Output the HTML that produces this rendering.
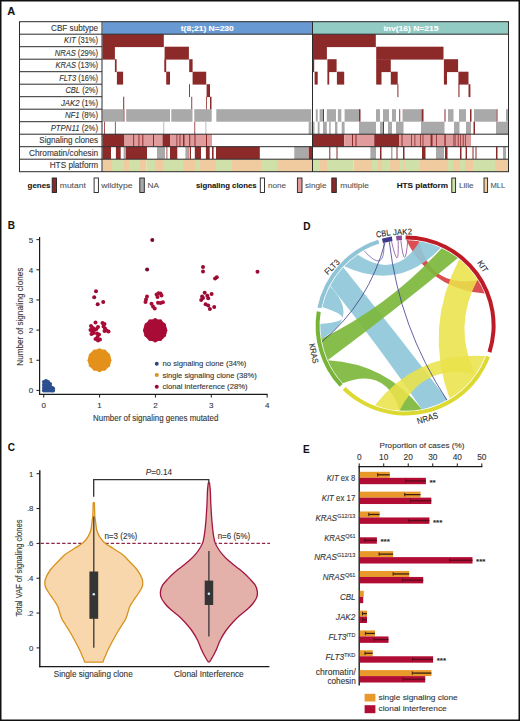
<!DOCTYPE html>
<html><head><meta charset="utf-8"><style>
html,body{margin:0;padding:0;background:#fff;overflow:hidden;}
#f{position:absolute;left:0;top:0;width:520px;height:721px;display:block;}
svg text{font-family:"Liberation Sans", sans-serif;stroke:#444;stroke-width:0.12px;}
svg text.w{stroke:#fff;}
svg text.l{stroke:#666;stroke-width:0.1px;}
</style></head><body>
<svg id="f" width="520" height="721" viewBox="0 0 520 721" font-family='"Liberation Sans", sans-serif'>
<rect x="0" y="0" width="520" height="721" fill="#fff"/>
<rect x="102.50" y="21.70" width="210.00" height="12.50" fill="#6899d2"/>
<rect x="312.50" y="21.70" width="196.00" height="12.50" fill="#92cac4"/>
<rect x="102.50" y="34.20" width="61.30" height="12.90" fill="#8c2a2a"/>
<rect x="312.50" y="34.20" width="63.30" height="12.90" fill="#8c2a2a"/>
<rect x="102.50" y="46.70" width="12.40" height="12.90" fill="#8c2a2a"/>
<rect x="164.60" y="46.70" width="24.30" height="12.90" fill="#8c2a2a"/>
<rect x="312.50" y="46.70" width="14.40" height="12.90" fill="#8c2a2a"/>
<rect x="376.20" y="46.70" width="67.30" height="12.90" fill="#8c2a2a"/>
<rect x="114.90" y="59.20" width="1.70" height="12.90" fill="#8c2a2a"/>
<rect x="164.30" y="59.20" width="1.90" height="12.90" fill="#8c2a2a"/>
<rect x="189.20" y="59.20" width="3.40" height="12.90" fill="#8c2a2a"/>
<rect x="312.50" y="59.20" width="1.70" height="12.90" fill="#8c2a2a"/>
<rect x="327.40" y="59.20" width="9.20" height="12.90" fill="#8c2a2a"/>
<rect x="376.20" y="59.20" width="14.60" height="12.90" fill="#8c2a2a"/>
<rect x="443.90" y="59.20" width="14.20" height="12.90" fill="#8c2a2a"/>
<rect x="116.90" y="71.70" width="6.20" height="12.90" fill="#8c2a2a"/>
<rect x="166.20" y="71.70" width="3.80" height="12.90" fill="#8c2a2a"/>
<rect x="192.60" y="71.70" width="13.60" height="12.90" fill="#8c2a2a"/>
<rect x="314.60" y="71.70" width="3.10" height="12.90" fill="#8c2a2a"/>
<rect x="327.40" y="71.70" width="1.80" height="12.90" fill="#8c2a2a"/>
<rect x="336.90" y="71.70" width="7.30" height="12.90" fill="#8c2a2a"/>
<rect x="376.20" y="71.70" width="5.30" height="12.90" fill="#8c2a2a"/>
<rect x="390.80" y="71.70" width="6.90" height="12.90" fill="#8c2a2a"/>
<rect x="443.90" y="71.70" width="3.10" height="12.90" fill="#8c2a2a"/>
<rect x="458.40" y="71.70" width="10.10" height="12.90" fill="#8c2a2a"/>
<rect x="189.00" y="84.20" width="0.90" height="12.90" fill="#8c2a2a"/>
<rect x="206.60" y="84.20" width="3.40" height="12.90" fill="#8c2a2a"/>
<rect x="397.40" y="84.20" width="1.00" height="12.90" fill="#8c2a2a"/>
<rect x="458.40" y="84.20" width="1.10" height="12.90" fill="#8c2a2a"/>
<rect x="468.50" y="84.20" width="1.90" height="12.90" fill="#8c2a2a"/>
<rect x="123.20" y="96.70" width="1.00" height="12.90" fill="#8c2a2a"/>
<rect x="191.30" y="96.70" width="0.90" height="12.90" fill="#8c2a2a"/>
<rect x="206.20" y="96.70" width="0.80" height="12.90" fill="#8c2a2a"/>
<rect x="210.00" y="96.70" width="1.50" height="12.90" fill="#8c2a2a"/>
<rect x="102.50" y="109.20" width="21.10" height="12.50" fill="#a9a9a9"/>
<rect x="126.20" y="109.20" width="43.80" height="12.50" fill="#a9a9a9"/>
<rect x="171.30" y="109.20" width="21.20" height="12.50" fill="#a9a9a9"/>
<rect x="194.30" y="109.20" width="17.40" height="12.50" fill="#a9a9a9"/>
<rect x="216.30" y="109.20" width="94.90" height="12.50" fill="#a9a9a9"/>
<rect x="315.80" y="109.20" width="1.90" height="12.50" fill="#a9a9a9"/>
<rect x="319.60" y="109.20" width="3.40" height="12.50" fill="#a9a9a9"/>
<rect x="326.80" y="109.20" width="9.20" height="12.50" fill="#a9a9a9"/>
<rect x="337.90" y="109.20" width="3.40" height="12.50" fill="#a9a9a9"/>
<rect x="344.60" y="109.20" width="14.40" height="12.50" fill="#a9a9a9"/>
<rect x="376.00" y="109.20" width="4.00" height="12.50" fill="#a9a9a9"/>
<rect x="383.00" y="109.20" width="6.00" height="12.50" fill="#a9a9a9"/>
<rect x="392.00" y="109.20" width="4.00" height="12.50" fill="#a9a9a9"/>
<rect x="402.50" y="109.20" width="19.00" height="12.50" fill="#a9a9a9"/>
<rect x="448.00" y="109.20" width="5.50" height="12.50" fill="#a9a9a9"/>
<rect x="459.00" y="109.20" width="7.00" height="12.50" fill="#a9a9a9"/>
<rect x="474.00" y="109.20" width="22.50" height="12.50" fill="#a9a9a9"/>
<rect x="506.00" y="109.20" width="2.50" height="12.50" fill="#a9a9a9"/>
<rect x="123.60" y="109.20" width="0.80" height="12.50" fill="#8c2a2a"/>
<rect x="323.00" y="109.20" width="1.00" height="12.50" fill="#8c2a2a"/>
<rect x="359.00" y="109.20" width="1.50" height="12.50" fill="#8c2a2a"/>
<rect x="399.30" y="109.20" width="0.90" height="12.50" fill="#8c2a2a"/>
<rect x="421.50" y="109.20" width="2.00" height="12.50" fill="#8c2a2a"/>
<rect x="444.50" y="109.20" width="1.00" height="12.50" fill="#8c2a2a"/>
<rect x="470.00" y="109.20" width="1.50" height="12.50" fill="#8c2a2a"/>
<rect x="496.50" y="109.20" width="1.00" height="12.50" fill="#8c2a2a"/>
<rect x="163.40" y="121.70" width="0.80" height="12.50" fill="#a9a9a9"/>
<rect x="205.50" y="121.70" width="0.80" height="12.50" fill="#a9a9a9"/>
<rect x="308.70" y="121.70" width="2.80" height="12.50" fill="#a9a9a9"/>
<rect x="313.00" y="121.70" width="1.50" height="12.50" fill="#a9a9a9"/>
<rect x="317.70" y="121.70" width="1.90" height="12.50" fill="#a9a9a9"/>
<rect x="323.00" y="121.70" width="3.80" height="12.50" fill="#a9a9a9"/>
<rect x="329.20" y="121.70" width="1.50" height="12.50" fill="#a9a9a9"/>
<rect x="335.00" y="121.70" width="2.40" height="12.50" fill="#a9a9a9"/>
<rect x="341.70" y="121.70" width="2.90" height="12.50" fill="#a9a9a9"/>
<rect x="359.00" y="121.70" width="17.00" height="12.50" fill="#a9a9a9"/>
<rect x="380.00" y="121.70" width="3.00" height="12.50" fill="#a9a9a9"/>
<rect x="388.00" y="121.70" width="4.00" height="12.50" fill="#a9a9a9"/>
<rect x="396.00" y="121.70" width="7.50" height="12.50" fill="#a9a9a9"/>
<rect x="421.00" y="121.70" width="23.50" height="12.50" fill="#a9a9a9"/>
<rect x="454.00" y="121.70" width="5.50" height="12.50" fill="#a9a9a9"/>
<rect x="466.00" y="121.70" width="5.00" height="12.50" fill="#a9a9a9"/>
<rect x="496.00" y="121.70" width="12.50" height="12.50" fill="#a9a9a9"/>
<rect x="104.00" y="121.70" width="0.80" height="12.50" fill="#8c2a2a"/>
<rect x="114.90" y="121.70" width="0.80" height="12.50" fill="#8c2a2a"/>
<rect x="194.40" y="121.70" width="0.80" height="12.50" fill="#8c2a2a"/>
<rect x="383.00" y="121.70" width="1.00" height="12.50" fill="#8c2a2a"/>
<rect x="473.50" y="121.70" width="1.50" height="12.50" fill="#8c2a2a"/>
<rect x="102.50" y="134.20" width="22.00" height="12.50" fill="#8c2a2a"/>
<rect x="124.50" y="134.20" width="28.50" height="12.50" fill="#e09c9c"/>
<rect x="133.20" y="134.20" width="0.90" height="12.50" fill="#8c2a2a"/>
<rect x="138.50" y="134.20" width="0.90" height="12.50" fill="#8c2a2a"/>
<rect x="142.30" y="134.20" width="1.00" height="12.50" fill="#8c2a2a"/>
<rect x="153.00" y="134.20" width="1.00" height="12.50" fill="#8c2a2a"/>
<rect x="154.00" y="134.20" width="8.50" height="12.50" fill="#e09c9c"/>
<rect x="162.50" y="134.20" width="7.50" height="12.50" fill="#8c2a2a"/>
<rect x="170.00" y="134.20" width="42.00" height="12.50" fill="#e09c9c"/>
<rect x="176.50" y="134.20" width="0.80" height="12.50" fill="#8c2a2a"/>
<rect x="179.50" y="134.20" width="0.90" height="12.50" fill="#8c2a2a"/>
<rect x="183.00" y="134.20" width="1.50" height="12.50" fill="#8c2a2a"/>
<rect x="189.20" y="134.20" width="1.00" height="12.50" fill="#8c2a2a"/>
<rect x="194.50" y="134.20" width="1.00" height="12.50" fill="#8c2a2a"/>
<rect x="206.00" y="134.20" width="1.00" height="12.50" fill="#8c2a2a"/>
<rect x="312.50" y="134.20" width="31.70" height="12.50" fill="#8c2a2a"/>
<rect x="344.20" y="134.20" width="30.00" height="12.50" fill="#e09c9c"/>
<rect x="352.00" y="134.20" width="1.00" height="12.50" fill="#8c2a2a"/>
<rect x="355.50" y="134.20" width="1.00" height="12.50" fill="#8c2a2a"/>
<rect x="374.20" y="134.20" width="24.80" height="12.50" fill="#8c2a2a"/>
<rect x="399.00" y="134.20" width="72.00" height="12.50" fill="#e09c9c"/>
<rect x="401.50" y="134.20" width="1.00" height="12.50" fill="#8c2a2a"/>
<rect x="411.00" y="134.20" width="0.80" height="12.50" fill="#8c2a2a"/>
<rect x="414.50" y="134.20" width="0.80" height="12.50" fill="#8c2a2a"/>
<rect x="420.00" y="134.20" width="0.80" height="12.50" fill="#8c2a2a"/>
<rect x="422.60" y="134.20" width="0.80" height="12.50" fill="#8c2a2a"/>
<rect x="430.60" y="134.20" width="1.90" height="12.50" fill="#8c2a2a"/>
<rect x="436.00" y="134.20" width="0.80" height="12.50" fill="#8c2a2a"/>
<rect x="444.40" y="134.20" width="1.30" height="12.50" fill="#8c2a2a"/>
<rect x="453.50" y="134.20" width="0.80" height="12.50" fill="#8c2a2a"/>
<rect x="454.80" y="134.20" width="0.70" height="12.50" fill="#8c2a2a"/>
<rect x="457.80" y="134.20" width="0.80" height="12.50" fill="#8c2a2a"/>
<rect x="460.30" y="134.20" width="0.70" height="12.50" fill="#8c2a2a"/>
<rect x="462.80" y="134.20" width="0.80" height="12.50" fill="#8c2a2a"/>
<rect x="465.30" y="134.20" width="0.70" height="12.50" fill="#8c2a2a"/>
<rect x="102.50" y="146.70" width="8.50" height="12.50" fill="#8c2a2a"/>
<rect x="115.90" y="146.70" width="4.80" height="12.50" fill="#8c2a2a"/>
<rect x="123.60" y="146.70" width="2.40" height="12.50" fill="#a9a9a9"/>
<rect x="126.00" y="146.70" width="21.00" height="12.50" fill="#8c2a2a"/>
<rect x="157.00" y="146.70" width="8.00" height="12.50" fill="#a9a9a9"/>
<rect x="166.50" y="146.70" width="0.80" height="12.50" fill="#8c2a2a"/>
<rect x="170.00" y="146.70" width="7.30" height="12.50" fill="#8c2a2a"/>
<rect x="185.40" y="146.70" width="2.60" height="12.50" fill="#a9a9a9"/>
<rect x="188.50" y="146.70" width="0.80" height="12.50" fill="#8c2a2a"/>
<rect x="190.00" y="146.70" width="1.00" height="12.50" fill="#8c2a2a"/>
<rect x="194.80" y="146.70" width="6.20" height="12.50" fill="#8c2a2a"/>
<rect x="205.90" y="146.70" width="3.80" height="12.50" fill="#8c2a2a"/>
<rect x="212.00" y="146.70" width="1.60" height="12.50" fill="#8c2a2a"/>
<rect x="216.00" y="146.70" width="43.80" height="12.50" fill="#8c2a2a"/>
<rect x="294.30" y="146.70" width="13.70" height="12.50" fill="#a9a9a9"/>
<rect x="308.50" y="146.70" width="4.00" height="12.50" fill="#8c2a2a"/>
<rect x="329.30" y="146.70" width="1.00" height="12.50" fill="#8c2a2a"/>
<rect x="336.50" y="146.70" width="1.00" height="12.50" fill="#8c2a2a"/>
<rect x="370.40" y="146.70" width="5.60" height="12.50" fill="#a9a9a9"/>
<rect x="380.00" y="146.70" width="1.50" height="12.50" fill="#8c2a2a"/>
<rect x="391.00" y="146.70" width="1.50" height="12.50" fill="#a9a9a9"/>
<rect x="396.50" y="146.70" width="1.00" height="12.50" fill="#8c2a2a"/>
<rect x="403.00" y="146.70" width="1.50" height="12.50" fill="#8c2a2a"/>
<rect x="422.00" y="146.70" width="3.50" height="12.50" fill="#8c2a2a"/>
<rect x="436.00" y="146.70" width="8.00" height="12.50" fill="#a9a9a9"/>
<rect x="445.00" y="146.70" width="2.50" height="12.50" fill="#8c2a2a"/>
<rect x="460.00" y="146.70" width="1.50" height="12.50" fill="#8c2a2a"/>
<rect x="465.60" y="146.70" width="1.40" height="12.50" fill="#8c2a2a"/>
<rect x="472.50" y="146.70" width="1.00" height="12.50" fill="#8c2a2a"/>
<rect x="475.50" y="146.70" width="1.00" height="12.50" fill="#8c2a2a"/>
<rect x="496.00" y="146.70" width="1.50" height="12.50" fill="#8c2a2a"/>
<rect x="503.00" y="146.70" width="3.00" height="12.50" fill="#a9a9a9"/>
<rect x="102.50" y="159.20" width="9.50" height="12.50" fill="#f0cba0"/>
<rect x="112.00" y="159.20" width="12.00" height="12.50" fill="#cfe0a8"/>
<rect x="124.00" y="159.20" width="5.00" height="12.50" fill="#f0cba0"/>
<rect x="129.00" y="159.20" width="11.00" height="12.50" fill="#cfe0a8"/>
<rect x="140.00" y="159.20" width="6.50" height="12.50" fill="#f0cba0"/>
<rect x="146.50" y="159.20" width="8.50" height="12.50" fill="#cfe0a8"/>
<rect x="155.00" y="159.20" width="8.00" height="12.50" fill="#f0cba0"/>
<rect x="163.00" y="159.20" width="20.00" height="12.50" fill="#cfe0a8"/>
<rect x="183.00" y="159.20" width="12.00" height="12.50" fill="#f0cba0"/>
<rect x="195.00" y="159.20" width="5.00" height="12.50" fill="#cfe0a8"/>
<rect x="200.00" y="159.20" width="16.00" height="12.50" fill="#f0cba0"/>
<rect x="216.00" y="159.20" width="16.00" height="12.50" fill="#cfe0a8"/>
<rect x="232.00" y="159.20" width="29.00" height="12.50" fill="#f0cba0"/>
<rect x="261.00" y="159.20" width="16.00" height="12.50" fill="#cfe0a8"/>
<rect x="277.00" y="159.20" width="35.50" height="12.50" fill="#f0cba0"/>
<rect x="312.50" y="159.20" width="7.50" height="12.50" fill="#cfe0a8"/>
<rect x="320.00" y="159.20" width="7.00" height="12.50" fill="#f0cba0"/>
<rect x="327.00" y="159.20" width="16.00" height="12.50" fill="#cfe0a8"/>
<rect x="343.00" y="159.20" width="10.50" height="12.50" fill="#cfe0a8"/>
<rect x="353.50" y="159.20" width="18.50" height="12.50" fill="#f0cba0"/>
<rect x="372.00" y="159.20" width="6.00" height="12.50" fill="#cfe0a8"/>
<rect x="378.00" y="159.20" width="4.00" height="12.50" fill="#f0cba0"/>
<rect x="382.00" y="159.20" width="8.00" height="12.50" fill="#cfe0a8"/>
<rect x="390.00" y="159.20" width="10.00" height="12.50" fill="#f0cba0"/>
<rect x="400.00" y="159.20" width="4.00" height="12.50" fill="#cfe0a8"/>
<rect x="404.00" y="159.20" width="1.00" height="12.50" fill="#f0cba0"/>
<rect x="405.00" y="159.20" width="15.00" height="12.50" fill="#cfe0a8"/>
<rect x="420.00" y="159.20" width="28.00" height="12.50" fill="#f0cba0"/>
<rect x="448.00" y="159.20" width="5.00" height="12.50" fill="#cfe0a8"/>
<rect x="453.00" y="159.20" width="7.00" height="12.50" fill="#f0cba0"/>
<rect x="460.00" y="159.20" width="5.00" height="12.50" fill="#cfe0a8"/>
<rect x="465.00" y="159.20" width="8.00" height="12.50" fill="#f0cba0"/>
<rect x="473.00" y="159.20" width="22.00" height="12.50" fill="#cfe0a8"/>
<rect x="495.00" y="159.20" width="13.50" height="12.50" fill="#f0cba0"/>
<rect x="19.5" y="21.70" width="489.00" height="150.00" fill="none" stroke="#2a2a2a" stroke-width="1.0"/>
<line x1="102.00" y1="21.70" x2="102.00" y2="171.70" stroke="#2a2a2a" stroke-width="1.0"/>
<line x1="312.50" y1="21.70" x2="312.50" y2="171.70" stroke="#2a2a2a" stroke-width="1.0"/>
<line x1="19.50" y1="34.20" x2="508.50" y2="34.20" stroke="#2a2a2a" stroke-width="1.0"/>
<line x1="19.50" y1="46.70" x2="102.00" y2="46.70" stroke="#2a2a2a" stroke-width="1.0"/>
<line x1="19.50" y1="59.20" x2="102.00" y2="59.20" stroke="#2a2a2a" stroke-width="1.0"/>
<line x1="19.50" y1="71.70" x2="102.00" y2="71.70" stroke="#2a2a2a" stroke-width="1.0"/>
<line x1="19.50" y1="84.20" x2="102.00" y2="84.20" stroke="#2a2a2a" stroke-width="1.0"/>
<line x1="19.50" y1="96.70" x2="102.00" y2="96.70" stroke="#2a2a2a" stroke-width="1.0"/>
<line x1="19.50" y1="109.20" x2="102.00" y2="109.20" stroke="#2a2a2a" stroke-width="1.0"/>
<line x1="19.50" y1="121.70" x2="102.00" y2="121.70" stroke="#2a2a2a" stroke-width="1.0"/>
<line x1="19.50" y1="134.20" x2="508.50" y2="134.20" stroke="#2a2a2a" stroke-width="1.0"/>
<line x1="19.50" y1="146.70" x2="508.50" y2="146.70" stroke="#2a2a2a" stroke-width="1.0"/>
<line x1="19.50" y1="159.20" x2="508.50" y2="159.20" stroke="#2a2a2a" stroke-width="1.0"/>
<text x="98.10" y="30.70" font-size="8.6" text-anchor="end" fill="#333" textLength="47.10" lengthAdjust="spacingAndGlyphs">CBF subtype</text>
<text x="98.1" y="43.20" font-size="8.6" text-anchor="end" fill="#333" textLength="34" lengthAdjust="spacingAndGlyphs"><tspan font-style="italic">KIT</tspan> (31%)</text>
<text x="98.1" y="55.70" font-size="8.6" text-anchor="end" fill="#333" textLength="43.4" lengthAdjust="spacingAndGlyphs"><tspan font-style="italic">NRAS</tspan> (29%)</text>
<text x="98.1" y="68.20" font-size="8.6" text-anchor="end" fill="#333" textLength="42.5" lengthAdjust="spacingAndGlyphs"><tspan font-style="italic">KRAS</tspan> (13%)</text>
<text x="98.1" y="80.70" font-size="8.6" text-anchor="end" fill="#333" textLength="38.9" lengthAdjust="spacingAndGlyphs"><tspan font-style="italic">FLT3</tspan> (16%)</text>
<text x="98.1" y="93.20" font-size="8.6" text-anchor="end" fill="#333" textLength="32.7" lengthAdjust="spacingAndGlyphs"><tspan font-style="italic">CBL</tspan> (2%)</text>
<text x="98.1" y="105.70" font-size="8.6" text-anchor="end" fill="#333" textLength="37.2" lengthAdjust="spacingAndGlyphs"><tspan font-style="italic">JAK2</tspan> (1%)</text>
<text x="98.1" y="118.20" font-size="8.6" text-anchor="end" fill="#333" textLength="33.2" lengthAdjust="spacingAndGlyphs"><tspan font-style="italic">NF1</tspan> (8%)</text>
<text x="98.1" y="130.70" font-size="8.6" text-anchor="end" fill="#333" textLength="47.4" lengthAdjust="spacingAndGlyphs"><tspan font-style="italic">PTPN11</tspan> (2%)</text>
<text x="98.10" y="143.20" font-size="8.6" text-anchor="end" fill="#333" textLength="58.80" lengthAdjust="spacingAndGlyphs">Signaling clones</text>
<text x="98.10" y="155.70" font-size="8.6" text-anchor="end" fill="#333" textLength="69.10" lengthAdjust="spacingAndGlyphs">Chromatin/cohesin</text>
<text x="98.10" y="168.20" font-size="8.6" text-anchor="end" fill="#333" textLength="48.40" lengthAdjust="spacingAndGlyphs">HTS platform</text>
<text x="207.30" y="30.70" font-size="7.4" text-anchor="middle" fill="#fff" font-weight="bold" textLength="53.00" lengthAdjust="spacingAndGlyphs" class="w">t(8;21) N=230</text>
<text x="411.00" y="30.60" font-size="7.2" text-anchor="middle" fill="#fff" font-weight="bold" textLength="55.00" lengthAdjust="spacingAndGlyphs" class="w">inv(16) N=215</text>
<text x="27.60" y="188.20" font-size="7.8" text-anchor="start" fill="#111" font-weight="bold" textLength="22.90" lengthAdjust="spacingAndGlyphs">genes</text>
<rect x="52.20" y="178" width="4.30" height="14.5" fill="#8c2a2a" stroke="#222" stroke-width="0.9"/>
<text x="59.80" y="188.20" font-size="7.8" text-anchor="start" fill="#505050" textLength="26.00" lengthAdjust="spacingAndGlyphs" class="l">mutant</text>
<rect x="94.10" y="178" width="4.30" height="14.5" fill="#fff" stroke="#222" stroke-width="0.9"/>
<text x="101.30" y="188.20" font-size="7.8" text-anchor="start" fill="#505050" textLength="31.20" lengthAdjust="spacingAndGlyphs" class="l">wildtype</text>
<rect x="139.80" y="178" width="4.50" height="14.5" fill="#a9a9a9" stroke="#222" stroke-width="0.9"/>
<text x="147.60" y="188.20" font-size="7.8" text-anchor="start" fill="#505050" textLength="11.50" lengthAdjust="spacingAndGlyphs" class="l">NA</text>
<text x="196.00" y="188.20" font-size="7.8" text-anchor="start" fill="#111" font-weight="bold" textLength="60.60" lengthAdjust="spacingAndGlyphs">signaling clones</text>
<rect x="260.30" y="178" width="4.20" height="14.5" fill="#fff" stroke="#222" stroke-width="0.9"/>
<text x="268.00" y="188.20" font-size="7.8" text-anchor="start" fill="#505050" textLength="18.00" lengthAdjust="spacingAndGlyphs" class="l">none</text>
<rect x="297.40" y="178" width="4.60" height="14.5" fill="#e09c9c" stroke="#222" stroke-width="0.9"/>
<text x="305.00" y="188.20" font-size="7.8" text-anchor="start" fill="#505050" textLength="21.50" lengthAdjust="spacingAndGlyphs" class="l">single</text>
<rect x="331.80" y="178" width="4.50" height="14.5" fill="#8c2a2a" stroke="#222" stroke-width="0.9"/>
<text x="340.20" y="188.20" font-size="7.8" text-anchor="start" fill="#505050" textLength="28.80" lengthAdjust="spacingAndGlyphs" class="l">multiple</text>
<text x="396.70" y="188.20" font-size="7.8" text-anchor="start" fill="#111" font-weight="bold" textLength="51.40" lengthAdjust="spacingAndGlyphs">HTS platform</text>
<rect x="451.80" y="178" width="3.80" height="14.5" fill="#cfe0a8" stroke="#222" stroke-width="0.9"/>
<text x="458.90" y="188.20" font-size="7.8" text-anchor="start" fill="#505050" textLength="14.80" lengthAdjust="spacingAndGlyphs" class="l">Lille</text>
<rect x="484.00" y="178" width="3.60" height="14.5" fill="#f0cba0" stroke="#222" stroke-width="0.9"/>
<text x="490.40" y="188.20" font-size="7.8" text-anchor="start" fill="#505050" textLength="14.80" lengthAdjust="spacingAndGlyphs" class="l">MLL</text>
<text x="7.30" y="15.40" font-size="11" text-anchor="start" fill="#111" font-weight="bold">A</text>
<text x="7.70" y="228.80" font-size="10" text-anchor="start" fill="#111" font-weight="bold">B</text>
<text x="7.70" y="451.20" font-size="10" text-anchor="start" fill="#111" font-weight="bold">C</text>
<text x="303.30" y="230.40" font-size="10" text-anchor="start" fill="#111" font-weight="bold">D</text>
<text x="303.00" y="453.00" font-size="10" text-anchor="start" fill="#111" font-weight="bold">E</text>
<line x1="39.60" y1="237.00" x2="39.60" y2="394.90" stroke="#1a1a1a" stroke-width="1.2"/>
<line x1="39.00" y1="394.30" x2="267.60" y2="394.30" stroke="#1a1a1a" stroke-width="1.2"/>
<line x1="36.40" y1="390.40" x2="39.60" y2="390.40" stroke="#1a1a1a" stroke-width="1.0"/>
<text x="33.30" y="393.30" font-size="8" text-anchor="end" fill="#333">0</text>
<line x1="36.40" y1="360.25" x2="39.60" y2="360.25" stroke="#1a1a1a" stroke-width="1.0"/>
<text x="33.30" y="363.15" font-size="8" text-anchor="end" fill="#333">1</text>
<line x1="36.40" y1="330.10" x2="39.60" y2="330.10" stroke="#1a1a1a" stroke-width="1.0"/>
<text x="33.30" y="333.00" font-size="8" text-anchor="end" fill="#333">2</text>
<line x1="36.40" y1="299.95" x2="39.60" y2="299.95" stroke="#1a1a1a" stroke-width="1.0"/>
<text x="33.30" y="302.85" font-size="8" text-anchor="end" fill="#333">3</text>
<line x1="36.40" y1="269.80" x2="39.60" y2="269.80" stroke="#1a1a1a" stroke-width="1.0"/>
<text x="33.30" y="272.70" font-size="8" text-anchor="end" fill="#333">4</text>
<line x1="36.40" y1="239.65" x2="39.60" y2="239.65" stroke="#1a1a1a" stroke-width="1.0"/>
<text x="33.30" y="242.55" font-size="8" text-anchor="end" fill="#333">5</text>
<line x1="43.75" y1="394.30" x2="43.75" y2="397.50" stroke="#1a1a1a" stroke-width="1.0"/>
<text x="43.75" y="408.20" font-size="8" text-anchor="middle" fill="#333">0</text>
<line x1="99.60" y1="394.30" x2="99.60" y2="397.50" stroke="#1a1a1a" stroke-width="1.0"/>
<text x="99.60" y="408.20" font-size="8" text-anchor="middle" fill="#333">1</text>
<line x1="155.45" y1="394.30" x2="155.45" y2="397.50" stroke="#1a1a1a" stroke-width="1.0"/>
<text x="155.45" y="408.20" font-size="8" text-anchor="middle" fill="#333">2</text>
<line x1="211.30" y1="394.30" x2="211.30" y2="397.50" stroke="#1a1a1a" stroke-width="1.0"/>
<text x="211.30" y="408.20" font-size="8" text-anchor="middle" fill="#333">3</text>
<line x1="267.15" y1="394.30" x2="267.15" y2="397.50" stroke="#1a1a1a" stroke-width="1.0"/>
<text x="267.15" y="408.20" font-size="8" text-anchor="middle" fill="#333">4</text>
<text x="93.10" y="420.90" font-size="8.2" text-anchor="start" fill="#333" textLength="125.20" lengthAdjust="spacingAndGlyphs">Number of signaling genes mutated</text>
<text x="0" y="0" font-size="8.4" fill="#333" text-anchor="middle" textLength="98" lengthAdjust="spacingAndGlyphs" transform="translate(22.6 316.7) rotate(-90)">Number of signaling clones</text>
<circle cx="44.00" cy="382.00" r="2.1" fill="#2c4f8e"/>
<circle cx="46.00" cy="381.00" r="2.1" fill="#2c4f8e"/>
<circle cx="48.00" cy="382.00" r="2.1" fill="#2c4f8e"/>
<circle cx="44.00" cy="385.00" r="2.1" fill="#2c4f8e"/>
<circle cx="46.00" cy="385.00" r="2.1" fill="#2c4f8e"/>
<circle cx="48.00" cy="385.00" r="2.1" fill="#2c4f8e"/>
<circle cx="50.00" cy="384.00" r="2.1" fill="#2c4f8e"/>
<circle cx="44.00" cy="388.00" r="2.1" fill="#2c4f8e"/>
<circle cx="46.00" cy="388.00" r="2.1" fill="#2c4f8e"/>
<circle cx="48.00" cy="388.00" r="2.1" fill="#2c4f8e"/>
<circle cx="50.00" cy="388.00" r="2.1" fill="#2c4f8e"/>
<circle cx="52.00" cy="388.00" r="2.1" fill="#2c4f8e"/>
<circle cx="44.00" cy="390.50" r="2.1" fill="#2c4f8e"/>
<circle cx="46.00" cy="390.50" r="2.1" fill="#2c4f8e"/>
<circle cx="48.00" cy="390.50" r="2.1" fill="#2c4f8e"/>
<circle cx="50.00" cy="390.50" r="2.1" fill="#2c4f8e"/>
<circle cx="52.00" cy="390.50" r="2.1" fill="#2c4f8e"/>
<circle cx="53.00" cy="388.50" r="2.1" fill="#2c4f8e"/>
<circle cx="53.00" cy="390.50" r="2.1" fill="#2c4f8e"/>
<circle cx="50.00" cy="386.50" r="2.1" fill="#2c4f8e"/>
<ellipse cx="99.5" cy="360.2" rx="11.6" ry="11.2" fill="#e3911a"/>
<circle cx="109.50" cy="360.20" r="2.0" fill="#e3911a"/>
<circle cx="108.16" cy="365.20" r="2.0" fill="#e3911a"/>
<circle cx="104.50" cy="368.86" r="2.0" fill="#e3911a"/>
<circle cx="99.50" cy="370.20" r="2.0" fill="#e3911a"/>
<circle cx="94.50" cy="368.86" r="2.0" fill="#e3911a"/>
<circle cx="90.84" cy="365.20" r="2.0" fill="#e3911a"/>
<circle cx="89.50" cy="360.20" r="2.0" fill="#e3911a"/>
<circle cx="90.84" cy="355.20" r="2.0" fill="#e3911a"/>
<circle cx="94.50" cy="351.54" r="2.0" fill="#e3911a"/>
<circle cx="99.50" cy="350.20" r="2.0" fill="#e3911a"/>
<circle cx="104.50" cy="351.54" r="2.0" fill="#e3911a"/>
<circle cx="108.16" cy="355.20" r="2.0" fill="#e3911a"/>
<ellipse cx="155.2" cy="330.2" rx="11.8" ry="11.3" fill="#a80c36"/>
<circle cx="165.40" cy="330.20" r="2.0" fill="#a80c36"/>
<circle cx="164.03" cy="335.30" r="2.0" fill="#a80c36"/>
<circle cx="160.30" cy="339.03" r="2.0" fill="#a80c36"/>
<circle cx="155.20" cy="340.40" r="2.0" fill="#a80c36"/>
<circle cx="150.10" cy="339.03" r="2.0" fill="#a80c36"/>
<circle cx="146.37" cy="335.30" r="2.0" fill="#a80c36"/>
<circle cx="145.00" cy="330.20" r="2.0" fill="#a80c36"/>
<circle cx="146.37" cy="325.10" r="2.0" fill="#a80c36"/>
<circle cx="150.10" cy="321.37" r="2.0" fill="#a80c36"/>
<circle cx="155.20" cy="320.00" r="2.0" fill="#a80c36"/>
<circle cx="160.30" cy="321.37" r="2.0" fill="#a80c36"/>
<circle cx="164.03" cy="325.10" r="2.0" fill="#a80c36"/>
<circle cx="95.50" cy="322.50" r="2.0" fill="#a80c36"/>
<circle cx="91.00" cy="326.00" r="2.0" fill="#a80c36"/>
<circle cx="93.00" cy="328.00" r="2.0" fill="#a80c36"/>
<circle cx="90.50" cy="330.00" r="2.0" fill="#a80c36"/>
<circle cx="92.50" cy="331.00" r="2.0" fill="#a80c36"/>
<circle cx="94.50" cy="330.00" r="2.0" fill="#a80c36"/>
<circle cx="96.50" cy="329.00" r="2.0" fill="#a80c36"/>
<circle cx="98.00" cy="327.00" r="2.0" fill="#a80c36"/>
<circle cx="91.50" cy="334.00" r="2.0" fill="#a80c36"/>
<circle cx="93.50" cy="333.00" r="2.0" fill="#a80c36"/>
<circle cx="97.00" cy="333.50" r="2.0" fill="#a80c36"/>
<circle cx="99.00" cy="334.50" r="2.0" fill="#a80c36"/>
<circle cx="97.50" cy="337.00" r="2.0" fill="#a80c36"/>
<circle cx="95.50" cy="339.00" r="2.0" fill="#a80c36"/>
<circle cx="100.00" cy="339.50" r="2.0" fill="#a80c36"/>
<circle cx="98.00" cy="340.50" r="2.0" fill="#a80c36"/>
<circle cx="102.50" cy="323.00" r="2.0" fill="#a80c36"/>
<circle cx="104.50" cy="324.00" r="2.0" fill="#a80c36"/>
<circle cx="103.50" cy="326.50" r="2.0" fill="#a80c36"/>
<circle cx="105.00" cy="328.50" r="2.0" fill="#a80c36"/>
<circle cx="106.50" cy="330.50" r="2.0" fill="#a80c36"/>
<circle cx="108.50" cy="331.50" r="2.0" fill="#a80c36"/>
<circle cx="104.50" cy="331.00" r="2.0" fill="#a80c36"/>
<circle cx="96.00" cy="291.20" r="2.0" fill="#9a0a32"/>
<circle cx="94.20" cy="297.30" r="2.0" fill="#9a0a32"/>
<circle cx="97.70" cy="304.20" r="2.0" fill="#9a0a32"/>
<circle cx="103.20" cy="301.90" r="2.0" fill="#9a0a32"/>
<circle cx="147.00" cy="296.50" r="2.0" fill="#a80c36"/>
<circle cx="146.00" cy="299.50" r="2.0" fill="#a80c36"/>
<circle cx="145.50" cy="302.00" r="2.0" fill="#a80c36"/>
<circle cx="151.50" cy="303.80" r="2.0" fill="#a80c36"/>
<circle cx="153.00" cy="306.50" r="2.0" fill="#a80c36"/>
<circle cx="154.70" cy="308.60" r="2.0" fill="#a80c36"/>
<circle cx="156.60" cy="294.60" r="2.0" fill="#a80c36"/>
<circle cx="158.50" cy="293.20" r="2.0" fill="#a80c36"/>
<circle cx="160.50" cy="293.50" r="2.0" fill="#a80c36"/>
<circle cx="161.50" cy="295.50" r="2.0" fill="#a80c36"/>
<circle cx="157.50" cy="297.00" r="2.0" fill="#a80c36"/>
<circle cx="158.00" cy="302.80" r="2.0" fill="#a80c36"/>
<circle cx="160.50" cy="303.00" r="2.0" fill="#a80c36"/>
<circle cx="162.90" cy="302.30" r="2.0" fill="#a80c36"/>
<circle cx="152.30" cy="240.00" r="2.0" fill="#7a0a2a"/>
<circle cx="147.10" cy="269.40" r="2.0" fill="#7a0a2a"/>
<circle cx="204.70" cy="292.70" r="2.0" fill="#9a0a32"/>
<circle cx="202.10" cy="296.50" r="2.0" fill="#9a0a32"/>
<circle cx="201.20" cy="300.00" r="2.0" fill="#9a0a32"/>
<circle cx="207.30" cy="295.70" r="2.0" fill="#9a0a32"/>
<circle cx="208.20" cy="298.30" r="2.0" fill="#9a0a32"/>
<circle cx="211.60" cy="294.00" r="2.0" fill="#9a0a32"/>
<circle cx="205.60" cy="304.30" r="2.0" fill="#9a0a32"/>
<circle cx="208.20" cy="305.50" r="2.0" fill="#9a0a32"/>
<circle cx="209.90" cy="309.00" r="2.0" fill="#9a0a32"/>
<circle cx="214.20" cy="306.90" r="2.0" fill="#9a0a32"/>
<circle cx="203.00" cy="298.00" r="2.0" fill="#9a0a32"/>
<circle cx="203.00" cy="267.10" r="2.0" fill="#9a0a32"/>
<circle cx="203.00" cy="271.40" r="2.0" fill="#9a0a32"/>
<circle cx="215.10" cy="278.40" r="2.0" fill="#9a0a32"/>
<circle cx="216.80" cy="277.20" r="2.0" fill="#9a0a32"/>
<circle cx="257.50" cy="271.80" r="2.0" fill="#9a0a32"/>
<circle cx="156.75" cy="363.75" r="2.0" fill="#2c4a80"/>
<text x="162.50" y="366.45" font-size="7.6" text-anchor="start" fill="#333" textLength="83.80" lengthAdjust="spacingAndGlyphs">no signaling clone (34%)</text>
<circle cx="156.75" cy="375.00" r="2.0" fill="#dc9020"/>
<text x="162.50" y="377.70" font-size="7.6" text-anchor="start" fill="#333" textLength="94.30" lengthAdjust="spacingAndGlyphs">single signaling clone (38%)</text>
<circle cx="156.75" cy="386.75" r="2.0" fill="#9a0a32"/>
<text x="162.50" y="389.45" font-size="7.6" text-anchor="start" fill="#333" textLength="85.00" lengthAdjust="spacingAndGlyphs">clonal interference (28%)</text>
<line x1="39.80" y1="470.30" x2="39.80" y2="667.20" stroke="#1a1a1a" stroke-width="1.4"/>
<line x1="39.10" y1="666.60" x2="269.40" y2="666.60" stroke="#1a1a1a" stroke-width="1.4"/>
<line x1="36.50" y1="473.70" x2="39.80" y2="473.70" stroke="#1a1a1a" stroke-width="1.0"/>
<text x="33.40" y="476.50" font-size="7.8" text-anchor="end" fill="#333">1</text>
<line x1="36.50" y1="508.54" x2="39.80" y2="508.54" stroke="#1a1a1a" stroke-width="1.0"/>
<text x="33.40" y="511.34" font-size="7.8" text-anchor="end" fill="#333">.8</text>
<line x1="36.50" y1="543.38" x2="39.80" y2="543.38" stroke="#1a1a1a" stroke-width="1.0"/>
<text x="33.40" y="546.18" font-size="7.8" text-anchor="end" fill="#333">.6</text>
<line x1="36.50" y1="578.22" x2="39.80" y2="578.22" stroke="#1a1a1a" stroke-width="1.0"/>
<text x="33.40" y="581.02" font-size="7.8" text-anchor="end" fill="#333">.4</text>
<line x1="36.50" y1="613.06" x2="39.80" y2="613.06" stroke="#1a1a1a" stroke-width="1.0"/>
<text x="33.40" y="615.86" font-size="7.8" text-anchor="end" fill="#333">.2</text>
<line x1="36.50" y1="647.90" x2="39.80" y2="647.90" stroke="#1a1a1a" stroke-width="1.0"/>
<text x="33.40" y="650.70" font-size="7.8" text-anchor="end" fill="#333">0</text>
<text x="0" y="0" font-size="8.4" fill="#333" text-anchor="middle" textLength="97" lengthAdjust="spacingAndGlyphs" transform="translate(21.8 568) rotate(-90)">Total VAF of signaling clones</text>
<line x1="40.5" y1="543.4" x2="270" y2="543.4" stroke="#8e2848" stroke-width="1.1" stroke-dasharray="3.4 2"/>
<path d="M94.40,502.70 C94.43,503.92 94.52,507.70 94.60,510.00 C94.68,512.30 94.75,514.67 94.90,516.50 C95.05,518.33 95.30,519.42 95.50,521.00 C95.70,522.58 95.88,524.47 96.10,526.00 C96.32,527.53 96.25,528.48 96.80,530.20 C97.35,531.92 98.17,534.27 99.40,536.30 C100.63,538.33 101.88,540.37 104.20,542.40 C106.52,544.43 110.20,546.45 113.30,548.50 C116.40,550.55 120.22,552.65 122.80,554.70 C125.38,556.75 126.38,558.25 128.80,560.80 C131.22,563.35 135.07,566.97 137.30,570.00 C139.53,573.03 141.35,576.33 142.20,579.00 C143.05,581.67 142.88,583.83 142.40,586.00 C141.92,588.17 140.78,589.58 139.30,592.00 C137.82,594.42 135.08,598.08 133.50,600.50 C131.92,602.92 130.75,604.47 129.80,606.50 C128.85,608.53 128.47,610.65 127.80,612.70 C127.13,614.75 126.72,616.83 125.80,618.80 C124.88,620.77 123.57,622.47 122.30,624.50 C121.03,626.53 119.45,628.92 118.20,631.00 C116.95,633.08 115.93,634.97 114.80,637.00 C113.67,639.03 112.48,641.15 111.40,643.20 C110.32,645.25 109.27,647.27 108.30,649.30 C107.33,651.33 106.38,653.62 105.60,655.40 C104.82,657.18 104.03,658.87 103.60,660.00 C103.17,661.13 103.10,661.83 103.00,662.20 L84.60,662.20 C84.50,661.83 84.43,661.13 84.00,660.00 C83.57,658.87 82.78,657.18 82.00,655.40 C81.22,653.62 80.27,651.33 79.30,649.30 C78.33,647.27 77.28,645.25 76.20,643.20 C75.12,641.15 73.93,639.03 72.80,637.00 C71.67,634.97 70.65,633.08 69.40,631.00 C68.15,628.92 66.57,626.53 65.30,624.50 C64.03,622.47 62.72,620.77 61.80,618.80 C60.88,616.83 60.47,614.75 59.80,612.70 C59.13,610.65 58.75,608.53 57.80,606.50 C56.85,604.47 55.68,602.92 54.10,600.50 C52.52,598.08 49.78,594.42 48.30,592.00 C46.82,589.58 45.68,588.17 45.20,586.00 C44.72,583.83 44.55,581.67 45.40,579.00 C46.25,576.33 48.07,573.03 50.30,570.00 C52.53,566.97 56.38,563.35 58.80,560.80 C61.22,558.25 62.22,556.75 64.80,554.70 C67.38,552.65 71.20,550.55 74.30,548.50 C77.40,546.45 81.08,544.43 83.40,542.40 C85.72,540.37 86.97,538.33 88.20,536.30 C89.43,534.27 90.25,531.92 90.80,530.20 C91.35,528.48 91.28,527.53 91.50,526.00 C91.72,524.47 91.90,522.58 92.10,521.00 C92.30,519.42 92.55,518.33 92.70,516.50 C92.85,514.67 92.92,512.30 93.00,510.00 C93.08,507.70 93.17,503.92 93.20,502.70 Z" fill="#f9d7ad" stroke="#d8921e" stroke-width="1.3" stroke-linejoin="round"/>
<path d="M209.50,482.90 C209.63,484.17 210.07,486.68 210.30,490.50 C210.53,494.32 210.63,500.72 210.90,505.80 C211.17,510.88 211.52,516.42 211.90,521.00 C212.28,525.58 212.68,529.73 213.20,533.30 C213.72,536.87 214.18,539.87 215.00,542.40 C215.82,544.93 216.83,546.45 218.10,548.50 C219.37,550.55 220.83,552.65 222.60,554.70 C224.37,556.75 226.40,558.77 228.70,560.80 C231.00,562.83 233.87,564.87 236.40,566.90 C238.93,568.93 241.62,570.97 243.90,573.00 C246.18,575.03 248.22,577.07 250.10,579.10 C251.98,581.13 254.00,583.17 255.20,585.20 C256.40,587.23 257.05,589.27 257.30,591.30 C257.55,593.33 257.43,595.37 256.70,597.40 C255.97,599.43 254.50,601.47 252.90,603.50 C251.30,605.53 249.35,607.57 247.10,609.60 C244.85,611.63 241.70,613.67 239.40,615.70 C237.10,617.73 235.58,619.25 233.30,621.80 C231.02,624.35 227.88,627.93 225.70,631.00 C223.52,634.07 221.73,637.15 220.20,640.20 C218.67,643.25 217.58,646.83 216.50,649.30 C215.42,651.77 214.60,653.30 213.70,655.00 C212.80,656.70 211.78,658.37 211.10,659.50 C210.42,660.63 209.85,661.42 209.60,661.80 L208.20,661.80 C207.95,661.42 207.38,660.63 206.70,659.50 C206.02,658.37 205.00,656.70 204.10,655.00 C203.20,653.30 202.38,651.77 201.30,649.30 C200.22,646.83 199.13,643.25 197.60,640.20 C196.07,637.15 194.28,634.07 192.10,631.00 C189.92,627.93 186.78,624.35 184.50,621.80 C182.22,619.25 180.70,617.73 178.40,615.70 C176.10,613.67 172.95,611.63 170.70,609.60 C168.45,607.57 166.50,605.53 164.90,603.50 C163.30,601.47 161.83,599.43 161.10,597.40 C160.37,595.37 160.25,593.33 160.50,591.30 C160.75,589.27 161.40,587.23 162.60,585.20 C163.80,583.17 165.82,581.13 167.70,579.10 C169.58,577.07 171.62,575.03 173.90,573.00 C176.18,570.97 178.87,568.93 181.40,566.90 C183.93,564.87 186.80,562.83 189.10,560.80 C191.40,558.77 193.43,556.75 195.20,554.70 C196.97,552.65 198.43,550.55 199.70,548.50 C200.97,546.45 201.98,544.93 202.80,542.40 C203.62,539.87 204.08,536.87 204.60,533.30 C205.12,529.73 205.52,525.58 205.90,521.00 C206.28,516.42 206.63,510.88 206.90,505.80 C207.17,500.72 207.27,494.32 207.50,490.50 C207.73,486.68 208.17,484.17 208.30,482.90 Z" fill="#e3b1a9" stroke="#a3153f" stroke-width="1.3" stroke-linejoin="round"/>
<line x1="93.80" y1="516.50" x2="93.80" y2="647.80" stroke="#353535" stroke-width="1.3"/>
<rect x="89.40" y="571.50" width="8.80" height="47.30" fill="#353535"/>
<circle cx="93.8" cy="594.3" r="1.3" fill="#cfe8f5"/>
<line x1="208.90" y1="551.00" x2="208.90" y2="636.50" stroke="#353535" stroke-width="1.3"/>
<rect x="204.70" y="580.60" width="8.50" height="24.40" fill="#353535"/>
<circle cx="208.9" cy="593.7" r="1.3" fill="#cfe8f5"/>
<polyline points="93.7,496.8 93.7,479.6 208.8,479.6 208.8,483.0" fill="none" stroke="#333" stroke-width="1.3"/>
<text x="145.8" y="475.0" font-size="8.2" fill="#333" textLength="26.2" lengthAdjust="spacingAndGlyphs"><tspan font-style="italic">P</tspan>=0.14</text>
<text x="104.40" y="538.50" font-size="8.2" text-anchor="start" fill="#333" textLength="32.90" lengthAdjust="spacingAndGlyphs">n=3 (2%)</text>
<text x="217.70" y="538.60" font-size="8.2" text-anchor="start" fill="#333" textLength="32.50" lengthAdjust="spacingAndGlyphs">n=6 (5%)</text>
<text x="53.80" y="677.10" font-size="8.4" text-anchor="start" fill="#333" textLength="78.90" lengthAdjust="spacingAndGlyphs">Single signaling clone</text>
<text x="174.00" y="677.10" font-size="8.4" text-anchor="start" fill="#333" textLength="69.70" lengthAdjust="spacingAndGlyphs">Clonal Interference</text>
<path d="M406.34,240.20 A85.3,85.3 0 0 1 418.94,241.25 Q430.45,287.96 477.94,280.30 A85.3,85.3 0 0 1 484.69,293.55 Q430.35,289.15 406.34,240.20 Z" fill="#d94448" fill-opacity="0.95"/>
<path d="M344.24,266.25 A85.3,85.3 0 0 1 357.90,254.78 Q395.85,280.59 419.68,241.37 A85.3,85.3 0 0 1 440.70,247.76 Q399.17,291.94 344.24,266.25 Z" fill="#8fc7d8" fill-opacity="0.92"/>
<path d="M322.32,307.04 A85.3,85.3 0 0 1 329.94,286.11 Q360.82,318.21 321.35,338.84 A85.3,85.3 0 0 1 320.31,324.01 Q363.46,320.51 322.32,307.04 Z" fill="#8fc7d8" fill-opacity="0.92"/>
<path d="M330.28,285.45 A85.3,85.3 0 0 1 343.22,267.33 Q396.17,332.92 447.47,399.81 A85.3,85.3 0 0 1 421.88,409.23 Q378.44,345.60 330.28,285.45 Z" fill="#8fc7d8" fill-opacity="0.92"/>
<path d="M327.67,360.19 A85.3,85.3 0 0 1 321.35,338.84 Q390.18,305.03 441.65,248.19 A85.3,85.3 0 0 1 457.88,258.10 Q394.32,311.11 327.67,360.19 Z" fill="#7db83c" fill-opacity="0.92"/>
<path d="M342.71,383.13 A85.3,85.3 0 0 1 327.67,360.19 Q385.87,363.40 421.88,409.23 A85.3,85.3 0 0 1 399.65,410.59 Q385.98,366.18 342.71,383.13 Z" fill="#7db83c" fill-opacity="0.92"/>
<path d="M475.47,374.43 A85.3,85.3 0 0 1 449.53,398.62 Q423.66,326.76 459.28,259.21 A85.3,85.3 0 0 1 477.54,279.67 Q452.40,326.52 475.47,374.43 Z" fill="#ebe34a" fill-opacity="0.88"/>
<path d="M485.23,356.07 A85.3,85.3 0 0 1 475.47,374.43 Q423.18,362.36 399.65,410.59 A85.3,85.3 0 0 1 375.03,405.13 Q417.38,351.95 485.23,356.07 Z" fill="#ebe34a" fill-opacity="0.88"/>
<path d="M384.96,242.73 Q369.07,302.23 321.87,341.78" fill="none" stroke="#3d3a8c" stroke-width="0.8"/>
<path d="M389.32,241.77 Q399.33,327.78 446.95,400.11" fill="none" stroke="#3d3a8c" stroke-width="0.8"/>
<path d="M391.52,241.37 Q399.15,274.77 398.17,240.52" fill="none" stroke="#8b4e98" stroke-width="0.8"/>
<path d="M400.84,240.33 Q404.84,274.37 407.83,240.23" fill="none" stroke="#8b4e98" stroke-width="0.8"/>
<path d="M383.95,242.99 Q385.13,274.44 364.25,250.89" fill="none" stroke="#3d3a8c" stroke-width="0.6"/>
<path d="M405.60,235.50 A90.0,90.0 0 0 1 491.39,352.71 L487.57,351.50 A86.0,86.0 0 0 0 405.60,239.50 Z" fill="#bd1c26"/>
<path d="M489.85,357.17 A90.0,90.0 0 0 1 342.74,389.91 L345.54,387.05 A86.0,86.0 0 0 0 486.10,355.76 Z" fill="#dcd932"/>
<path d="M339.67,386.76 A90.0,90.0 0 0 1 316.73,311.27 L320.68,311.90 A86.0,86.0 0 0 0 342.60,384.04 Z" fill="#77b336"/>
<path d="M317.44,307.40 A90.0,90.0 0 0 1 378.09,239.81 L379.31,243.62 A86.0,86.0 0 0 0 321.36,308.21 Z" fill="#8ec4d6"/>
<path d="M381.85,238.69 A90.0,90.0 0 0 1 391.83,236.56 L392.52,241.01 A85.5,85.5 0 0 0 383.04,243.03 Z" fill="#3d3a8c"/>
<path d="M396.04,236.01 A90.0,90.0 0 0 1 401.83,235.58 L402.02,240.07 A85.5,85.5 0 0 0 396.51,240.48 Z" fill="#8b4e98"/>
<text x="0" y="0" font-size="8.3" fill="#222" text-anchor="middle" textLength="14.5" lengthAdjust="spacingAndGlyphs" transform="translate(383.60 236.30) rotate(-9)">CBL</text>
<text x="0" y="0" font-size="8.3" fill="#222" text-anchor="middle" textLength="19.0" lengthAdjust="spacingAndGlyphs" transform="translate(402.60 234.80) rotate(-2)">JAK2</text>
<text x="0" y="0" font-size="8.3" fill="#222" text-anchor="middle" textLength="12.5" lengthAdjust="spacingAndGlyphs" transform="translate(480.30 268.00) rotate(57)">KIT</text>
<text x="0" y="0" font-size="8.3" fill="#222" text-anchor="middle" textLength="17.5" lengthAdjust="spacingAndGlyphs" transform="translate(334.00 269.00) rotate(-45)">FLT3</text>
<text x="0" y="0" font-size="8.3" fill="#222" text-anchor="middle" textLength="20.0" lengthAdjust="spacingAndGlyphs" transform="translate(311.00 354.00) rotate(78)">KRAS</text>
<text x="0" y="0" font-size="8.8" fill="#222" text-anchor="middle" textLength="21.5" lengthAdjust="spacingAndGlyphs" transform="translate(428.40 421.20) rotate(-16.5)">NRAS</text>
<line x1="358.50" y1="466.60" x2="482.40" y2="466.60" stroke="#1a1a1a" stroke-width="1.4"/>
<line x1="359.20" y1="466.00" x2="359.20" y2="685.50" stroke="#1a1a1a" stroke-width="1.4"/>
<line x1="359.20" y1="463.40" x2="359.20" y2="466.60" stroke="#1a1a1a" stroke-width="1.0"/>
<text x="359.20" y="460.20" font-size="8.3" text-anchor="middle" fill="#333">0</text>
<line x1="383.72" y1="463.40" x2="383.72" y2="466.60" stroke="#1a1a1a" stroke-width="1.0"/>
<text x="383.72" y="460.20" font-size="8.3" text-anchor="middle" fill="#333">10</text>
<line x1="408.24" y1="463.40" x2="408.24" y2="466.60" stroke="#1a1a1a" stroke-width="1.0"/>
<text x="408.24" y="460.20" font-size="8.3" text-anchor="middle" fill="#333">20</text>
<line x1="432.76" y1="463.40" x2="432.76" y2="466.60" stroke="#1a1a1a" stroke-width="1.0"/>
<text x="432.76" y="460.20" font-size="8.3" text-anchor="middle" fill="#333">30</text>
<line x1="457.28" y1="463.40" x2="457.28" y2="466.60" stroke="#1a1a1a" stroke-width="1.0"/>
<text x="457.28" y="460.20" font-size="8.3" text-anchor="middle" fill="#333">40</text>
<line x1="481.80" y1="463.40" x2="481.80" y2="466.60" stroke="#1a1a1a" stroke-width="1.0"/>
<text x="481.80" y="460.20" font-size="8.3" text-anchor="middle" fill="#333">50</text>
<text x="379.50" y="447.80" font-size="8.1" text-anchor="start" fill="#333" textLength="84.90" lengthAdjust="spacingAndGlyphs">Proportion of cases (%)</text>
<rect x="359.80" y="471.80" width="30.00" height="6.00" fill="#e8992a"/>
<line x1="377.70" y1="474.80" x2="389.80" y2="474.80" stroke="#3a200c" stroke-width="1.3"/>
<line x1="377.70" y1="473.10" x2="377.70" y2="476.50" stroke="#3a200c" stroke-width="1.0"/>
<rect x="359.80" y="477.80" width="66.10" height="6.40" fill="#b10d34"/>
<line x1="405.70" y1="480.90" x2="425.90" y2="480.90" stroke="#5e0a1c" stroke-width="1.3"/>
<line x1="405.70" y1="479.20" x2="405.70" y2="482.60" stroke="#5e0a1c" stroke-width="1.0"/>
<text x="429.50" y="485.00" font-size="8" text-anchor="start" fill="#222" font-weight="bold">**</text>
<text x="355.4" y="481.10" font-size="8.4" text-anchor="end" fill="#333" textLength="28.7" lengthAdjust="spacingAndGlyphs"><tspan font-style="italic">KIT</tspan> ex 8</text>
<rect x="359.80" y="491.63" width="60.70" height="6.00" fill="#e8992a"/>
<line x1="404.70" y1="494.63" x2="420.50" y2="494.63" stroke="#3a200c" stroke-width="1.3"/>
<line x1="404.70" y1="492.93" x2="404.70" y2="496.33" stroke="#3a200c" stroke-width="1.0"/>
<rect x="359.80" y="497.63" width="71.50" height="6.40" fill="#b10d34"/>
<line x1="410.60" y1="500.73" x2="431.30" y2="500.73" stroke="#5e0a1c" stroke-width="1.3"/>
<line x1="410.60" y1="499.03" x2="410.60" y2="502.43" stroke="#5e0a1c" stroke-width="1.0"/>
<text x="355.4" y="500.93" font-size="8.4" text-anchor="end" fill="#333" textLength="33.7" lengthAdjust="spacingAndGlyphs"><tspan font-style="italic">KIT</tspan> ex 17</text>
<rect x="359.80" y="511.46" width="19.80" height="6.00" fill="#e8992a"/>
<line x1="368.80" y1="514.46" x2="379.60" y2="514.46" stroke="#3a200c" stroke-width="1.3"/>
<line x1="368.80" y1="512.76" x2="368.80" y2="516.16" stroke="#3a200c" stroke-width="1.0"/>
<rect x="359.80" y="517.46" width="69.60" height="6.40" fill="#b10d34"/>
<line x1="408.70" y1="520.56" x2="429.40" y2="520.56" stroke="#5e0a1c" stroke-width="1.3"/>
<line x1="408.70" y1="518.86" x2="408.70" y2="522.26" stroke="#5e0a1c" stroke-width="1.0"/>
<text x="433.00" y="524.66" font-size="8" text-anchor="start" fill="#222" font-weight="bold">***</text>
<text x="355.4" y="520.76" font-size="8.4" text-anchor="end" fill="#333" textLength="40" lengthAdjust="spacingAndGlyphs"><tspan font-style="italic">KRAS</tspan><tspan font-size="5.8" dy="-3">G12/13</tspan></text>
<rect x="359.80" y="537.29" width="17.10" height="6.40" fill="#b10d34"/>
<line x1="364.80" y1="540.39" x2="376.90" y2="540.39" stroke="#5e0a1c" stroke-width="1.3"/>
<line x1="364.80" y1="538.69" x2="364.80" y2="542.09" stroke="#5e0a1c" stroke-width="1.0"/>
<text x="380.50" y="544.49" font-size="8" text-anchor="start" fill="#222" font-weight="bold">***</text>
<text x="355.4" y="540.59" font-size="8.4" text-anchor="end" fill="#333" textLength="31.2" lengthAdjust="spacingAndGlyphs"><tspan font-style="italic">KRAS</tspan><tspan font-size="5.8" dy="-3">Q61</tspan></text>
<rect x="359.80" y="551.12" width="33.30" height="6.00" fill="#e8992a"/>
<line x1="379.10" y1="554.12" x2="393.10" y2="554.12" stroke="#3a200c" stroke-width="1.3"/>
<line x1="379.10" y1="552.42" x2="379.10" y2="555.82" stroke="#3a200c" stroke-width="1.0"/>
<rect x="359.80" y="557.12" width="112.70" height="6.40" fill="#b10d34"/>
<line x1="449.60" y1="560.22" x2="472.50" y2="560.22" stroke="#5e0a1c" stroke-width="1.3"/>
<line x1="449.60" y1="558.52" x2="449.60" y2="561.92" stroke="#5e0a1c" stroke-width="1.0"/>
<text x="476.10" y="564.32" font-size="8" text-anchor="start" fill="#222" font-weight="bold">***</text>
<text x="355.4" y="560.42" font-size="8.4" text-anchor="end" fill="#333" textLength="41.2" lengthAdjust="spacingAndGlyphs"><tspan font-style="italic">NRAS</tspan><tspan font-size="5.8" dy="-3">G12/13</tspan></text>
<rect x="359.80" y="570.95" width="49.40" height="6.00" fill="#e8992a"/>
<line x1="393.10" y1="573.95" x2="409.20" y2="573.95" stroke="#3a200c" stroke-width="1.3"/>
<line x1="393.10" y1="572.25" x2="393.10" y2="575.65" stroke="#3a200c" stroke-width="1.0"/>
<rect x="359.80" y="576.95" width="63.40" height="6.40" fill="#b10d34"/>
<line x1="402.50" y1="580.05" x2="423.20" y2="580.05" stroke="#5e0a1c" stroke-width="1.3"/>
<line x1="402.50" y1="578.35" x2="402.50" y2="581.75" stroke="#5e0a1c" stroke-width="1.0"/>
<text x="355.4" y="580.25" font-size="8.4" text-anchor="end" fill="#333" textLength="32.7" lengthAdjust="spacingAndGlyphs"><tspan font-style="italic">NRAS</tspan><tspan font-size="5.8" dy="-3">Q61</tspan></text>
<rect x="359.80" y="590.78" width="4.00" height="6.00" fill="#e8992a"/>
<rect x="359.80" y="596.78" width="3.40" height="6.40" fill="#b10d34"/>
<text x="355.4" y="600.08" font-size="8.4" text-anchor="end" fill="#333" textLength="15.5" lengthAdjust="spacingAndGlyphs"><tspan font-style="italic">CBL</tspan></text>
<rect x="359.80" y="610.61" width="7.20" height="6.00" fill="#e8992a"/>
<line x1="362.50" y1="613.61" x2="367.00" y2="613.61" stroke="#3a200c" stroke-width="1.3"/>
<line x1="362.50" y1="611.91" x2="362.50" y2="615.31" stroke="#3a200c" stroke-width="1.0"/>
<rect x="359.80" y="616.61" width="7.20" height="6.40" fill="#b10d34"/>
<line x1="362.50" y1="619.71" x2="367.00" y2="619.71" stroke="#5e0a1c" stroke-width="1.3"/>
<line x1="362.50" y1="618.01" x2="362.50" y2="621.41" stroke="#5e0a1c" stroke-width="1.0"/>
<text x="355.4" y="619.91" font-size="8.4" text-anchor="end" fill="#333" textLength="19.6" lengthAdjust="spacingAndGlyphs"><tspan font-style="italic">JAK2</tspan></text>
<rect x="359.80" y="630.44" width="15.20" height="6.00" fill="#e8992a"/>
<line x1="365.40" y1="633.44" x2="375.00" y2="633.44" stroke="#3a200c" stroke-width="1.3"/>
<line x1="365.40" y1="631.74" x2="365.40" y2="635.14" stroke="#3a200c" stroke-width="1.0"/>
<rect x="359.80" y="636.44" width="28.70" height="6.40" fill="#b10d34"/>
<line x1="374.00" y1="639.54" x2="388.50" y2="639.54" stroke="#5e0a1c" stroke-width="1.3"/>
<line x1="374.00" y1="637.84" x2="374.00" y2="641.24" stroke="#5e0a1c" stroke-width="1.0"/>
<text x="355.4" y="639.74" font-size="8.4" text-anchor="end" fill="#333" textLength="27" lengthAdjust="spacingAndGlyphs"><tspan font-style="italic">FLT3</tspan><tspan font-size="5.8" dy="-3">ITD</tspan></text>
<rect x="359.80" y="650.27" width="12.90" height="6.00" fill="#e8992a"/>
<line x1="365.00" y1="653.27" x2="372.70" y2="653.27" stroke="#3a200c" stroke-width="1.3"/>
<line x1="365.00" y1="651.57" x2="365.00" y2="654.97" stroke="#3a200c" stroke-width="1.0"/>
<rect x="359.80" y="656.27" width="73.30" height="6.40" fill="#b10d34"/>
<line x1="412.50" y1="659.37" x2="433.10" y2="659.37" stroke="#5e0a1c" stroke-width="1.3"/>
<line x1="412.50" y1="657.67" x2="412.50" y2="661.07" stroke="#5e0a1c" stroke-width="1.0"/>
<text x="436.70" y="663.47" font-size="8" text-anchor="start" fill="#222" font-weight="bold">***</text>
<text x="355.4" y="659.57" font-size="8.4" text-anchor="end" fill="#333" textLength="30" lengthAdjust="spacingAndGlyphs"><tspan font-style="italic">FLT3</tspan><tspan font-size="5.8" dy="-3">TKD</tspan></text>
<rect x="359.80" y="670.10" width="71.60" height="6.00" fill="#e8992a"/>
<line x1="412.30" y1="673.10" x2="431.40" y2="673.10" stroke="#3a200c" stroke-width="1.3"/>
<line x1="412.30" y1="671.40" x2="412.30" y2="674.80" stroke="#3a200c" stroke-width="1.0"/>
<rect x="359.80" y="676.10" width="65.40" height="6.40" fill="#b10d34"/>
<line x1="403.00" y1="679.20" x2="425.20" y2="679.20" stroke="#5e0a1c" stroke-width="1.3"/>
<line x1="403.00" y1="677.50" x2="403.00" y2="680.90" stroke="#5e0a1c" stroke-width="1.0"/>
<text x="355.80" y="675.20" font-size="8.4" text-anchor="end" fill="#333" textLength="40.00" lengthAdjust="spacingAndGlyphs">chromatin/</text>
<text x="355.80" y="684.20" font-size="8.4" text-anchor="end" fill="#333" textLength="28.40" lengthAdjust="spacingAndGlyphs">cohesin</text>
<rect x="364.60" y="693.80" width="10.80" height="7.70" fill="#e8992a"/>
<rect x="364.60" y="705.20" width="10.80" height="8.00" fill="#b10d34"/>
<text x="378.60" y="699.80" font-size="8.1" text-anchor="start" fill="#333" textLength="79.10" lengthAdjust="spacingAndGlyphs">single signaling clone</text>
<text x="378.60" y="711.40" font-size="8.1" text-anchor="start" fill="#333" textLength="68.10" lengthAdjust="spacingAndGlyphs">clonal interference</text>
<rect x="0.75" y="0.75" width="518.5" height="719.5" fill="none" stroke="#111" stroke-width="1.5"/>
</svg>
</body></html>
